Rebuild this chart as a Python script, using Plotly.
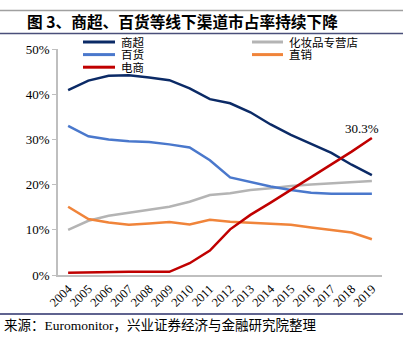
import plotly.graph_objects as go

years = [str(y) for y in range(2004, 2020)]
supermarket = [40.9, 43.0, 44.1, 44.2, 43.7, 43.1, 41.3, 38.9, 38.0, 36.0, 33.3, 31.0, 29.0, 27.0, 24.4, 22.1]
cosmetics = [10.0, 12.0, 13.1, 13.8, 14.4, 15.1, 16.2, 17.7, 18.1, 18.8, 19.2, 19.7, 20.0, 20.3, 20.6, 20.8]
department = [33.0, 30.7, 30.0, 29.6, 29.4, 28.9, 28.2, 25.4, 21.6, 20.6, 19.6, 18.8, 18.2, 18.0, 18.0, 18.0]
direct = [15.1, 12.4, 11.6, 11.1, 11.4, 11.7, 11.2, 12.2, 11.8, 11.6, 11.4, 11.1, 10.5, 10.0, 9.4, 7.9]
ecommerce = [0.5, 0.6, 0.6, 0.7, 0.7, 0.7, 2.6, 5.4, 10.1, 13.3, 16.0, 18.8, 21.6, 24.4, 27.3, 30.3]

series = [
    ("商超", supermarket, "#0B2A66"),
    ("化妆品专营店", cosmetics, "#B4B4B4"),
    ("百货", department, "#4A78CC"),
    ("直销", direct, "#F0843A"),
    ("电商", ecommerce, "#C00000"),
]
legend_cols = [["商超", "百货", "电商"], ["化妆品专营店", "直销"]]
title_text = "图 3、商超、百货等线下渠道市占率持续下降"
source_text = "来源：Euromonitor，兴业证券经济与金融研究院整理"
label_text = "30.3%"

W, H = 403, 354
L, R, T, B = 58, 21, 49, 79
PW, PH = W - L - R, H - T - B


def px(x):
    return (x - L) / PW


def py(y):
    return (H - B - y) / PH


SERIF = "Liberation Serif, Noto Sans CJK SC"

fig = go.Figure()
colors = {}
for name, vals, col in series:
    colors[name] = col
    fig.add_trace(go.Scatter(
        x=years, y=[v / 100 for v in vals], mode="lines", name=name,
        line=dict(color=col, width=2.5), showlegend=False,
    ))

shapes = []
annotations = []

# data label for the last e-commerce point (category index of the last year)
annotations.append(dict(
    xref="x", yref="y", x=len(years) - 1, y=ecommerce[-1] / 100, text=label_text,
    showarrow=False, xanchor="center", yanchor="bottom", xshift=-10, yshift=0,
    font=dict(family=SERIF, size=13, color="#000000"),
))

# legend
col_x = [(83, 115), (252, 283)]
row_y = [42.0, 54.6, 67.2]
for ci, names in enumerate(legend_cols):
    x0, x1 = col_x[ci]
    for ri, name in enumerate(names):
        y = row_y[ri]
        shapes.append(dict(type="line", xref="paper", yref="paper",
                           x0=px(x0), x1=px(x1), y0=py(y), y1=py(y),
                           line=dict(color=colors[name], width=3)))
        annotations.append(dict(xref="paper", yref="paper", x=px(x1 + 4), y=py(y),
                                text=name, showarrow=False, xanchor="left",
                                yanchor="middle",
                                font=dict(family=SERIF, size=11.5, color="#000000")))

# header / footer rules
shapes.append(dict(type="line", xref="paper", yref="paper", x0=px(0), x1=px(W),
                   y0=py(10.5), y1=py(10.5), line=dict(color="#A0A0A0", width=1.5)))
shapes.append(dict(type="line", xref="paper", yref="paper", x0=px(0), x1=px(W),
                   y0=py(33.5), y1=py(33.5), line=dict(color="#4A4F7A", width=1.5)))
shapes.append(dict(type="line", xref="paper", yref="paper", x0=px(0), x1=px(W),
                   y0=py(314), y1=py(314), line=dict(color="#2A2F6A", width=1.5)))

annotations.append(dict(xref="paper", yref="paper", x=px(25), y=py(21.5),
                        text="<b>" + title_text + "</b>", showarrow=False,
                        xanchor="left", yanchor="middle",
                        font=dict(family="Noto Sans CJK SC", size=15.7, color="#000000")))
annotations.append(dict(xref="paper", yref="paper", x=px(2), y=py(325.5),
                        text=source_text, showarrow=False,
                        xanchor="left", yanchor="middle",
                        font=dict(family=SERIF, size=13.5, color="#000000")))

fig.update_layout(
    width=W, height=H,
    margin=dict(l=L, r=R, t=T, b=B, pad=0),
    paper_bgcolor="white", plot_bgcolor="white",
    shapes=shapes, annotations=annotations,
    showlegend=False,
)
fig.update_xaxes(
    type="category", range=[-0.5, 15.5], tickangle=-45,
    showline=True, linecolor="#BFBFBF", linewidth=1.5, showgrid=False,
    ticks="", tickfont=dict(family=SERIF, size=12.5, color="#000000"),
    zeroline=False,
)
fig.update_yaxes(
    range=[0, 0.5], dtick=0.1, tickformat=".0%",
    showline=True, linecolor="#BFBFBF", linewidth=1.5, showgrid=False,
    ticks="outside", ticklen=4, tickcolor="#BFBFBF",
    tickfont=dict(family=SERIF, size=13, color="#000000"),
    zeroline=False,
)

fig.write_html("out.html")
